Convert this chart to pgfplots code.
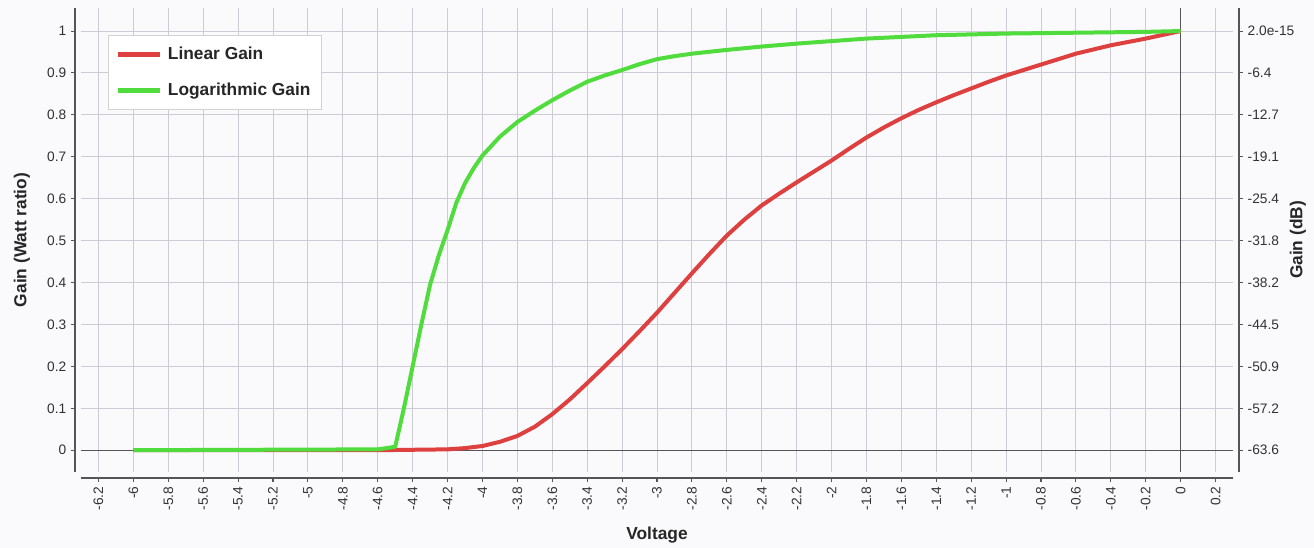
\documentclass[border=0pt]{standalone}
\usepackage{pgfplots}
\pgfplotsset{compat=1.18}
\usepackage{fontspec}
\setmainfont{Liberation Sans}
\definecolor{redc}{RGB}{222,64,64}
\definecolor{greenc}{RGB}{80,220,60}
\definecolor{gridc}{RGB}{204,204,210}
\definecolor{axc}{RGB}{85,85,85}
\definecolor{bgc}{RGB}{250,250,252}
\definecolor{txtc}{RGB}{50,50,50}

\pgfplotstableread{
x y
-6.0 0
-4.6 0
-4.4 0.001
-4.2 0.002
-4.1 0.005
-4.0 0.010
-3.9 0.020
-3.8 0.034
-3.7 0.056
-3.6 0.086
-3.5 0.121
-3.4 0.160
-3.3 0.200
-3.2 0.241
-3.1 0.284
-3.0 0.328
-2.9 0.375
-2.8 0.422
-2.7 0.468
-2.6 0.512
-2.5 0.550
-2.4 0.584
-2.3 0.612
-2.2 0.639
-2.1 0.665
-2.0 0.691
-1.9 0.719
-1.8 0.746
-1.7 0.770
-1.6 0.792
-1.5 0.812
-1.4 0.830
-1.3 0.847
-1.2 0.863
-1.1 0.879
-1.0 0.894
-0.9 0.907
-0.8 0.920
-0.7 0.933
-0.6 0.946
-0.5 0.956
-0.4 0.966
-0.3 0.974
-0.2 0.982
-0.1 0.991
0.0 1.0
}\lineargain

\pgfplotstableread{
x y
-6.0 0
-4.6 0.002
-4.5 0.008
-4.45 0.10
-4.4 0.20
-4.35 0.30
-4.3 0.395
-4.25 0.465
-4.2 0.525
-4.15 0.59
-4.1 0.637
-4.05 0.673
-4.0 0.703
-3.9 0.748
-3.8 0.783
-3.7 0.810
-3.6 0.835
-3.5 0.858
-3.4 0.879
-3.3 0.894
-3.2 0.907
-3.1 0.921
-3.0 0.933
-2.9 0.940
-2.8 0.946
-2.6 0.955
-2.4 0.963
-2.2 0.970
-2.0 0.976
-1.8 0.982
-1.6 0.986
-1.4 0.990
-1.2 0.992
-1.0 0.994
-0.8 0.995
-0.6 0.996
-0.4 0.997
-0.2 0.998
0.0 1.0
}\loggain

\tikzset{
  ticklab/.style={font=\fontsize{10.3}{11}\selectfont, text=txtc},
  lab/.style={font=\fontsize{13}{15}\selectfont\bfseries, text=black!85},
}

\begin{document}
\begin{tikzpicture}
\path[use as bounding box, fill=bgc] (-60.75pt,-57pt) rectangle (924.75pt,354pt);

% data area
\begin{axis}[
  at={(0,0)}, anchor=south west,
  width=864pt, height=348pt, scale only axis,
  xmin=-6.3, xmax=0.3, ymin=-0.052, ymax=1.055,
  xtick={-6.2,-6,-5.8,-5.6,-5.4,-5.2,-5,-4.8,-4.6,-4.4,-4.2,-4,-3.8,-3.6,-3.4,-3.2,-3,-2.8,-2.6,-2.4,-2.2,-2,-1.8,-1.6,-1.4,-1.2,-1,-0.8,-0.6,-0.4,-0.2,0,0.2},
  ytick={0,0.1,0.2,0.3,0.4,0.5,0.6,0.7,0.8,0.9,1},
  xticklabels={}, yticklabels={},
  xtick style={draw=none}, ytick style={draw=none},
  grid=major, grid style={gridc, line width=0.75pt},
  axis line style={draw=none},
  axis background/.style={fill=bgc},
  legend style={at={(0.0234,0.942)}, anchor=north west,
    draw=gray!35, fill=white, line width=0.6pt,
    font=\fontsize{13}{15}\selectfont\bfseries, text=black!85,
    inner xsep=6pt, inner ysep=7pt, row sep=12pt, column sep=2pt,
    nodes={inner sep=2pt}},
  legend cell align=left,
  legend image code/.code={\draw[#1, line width=3.2pt] (0pt,0pt) -- (31.5pt,0pt);},
]
\addplot[axc, line width=0.9pt, forget plot] coordinates {(-6.3,0) (0.3,0)};
\addplot[axc, line width=1.1pt, forget plot] coordinates {(0,-0.052) (0,1.055)};
\addplot[redc, line width=3pt, line join=round] table {\lineargain};
\addplot[greenc, line width=3pt, line join=round] table {\loggain};
\legend{Linear Gain, Logarithmic Gain}
\end{axis}

% bottom x axis
\begin{axis}[
  at={(0,-4.5pt)}, anchor=south west,
  width=864pt, height=20pt, scale only axis,
  xmin=-6.3, xmax=0.3, ymin=0, ymax=1,
  axis x line*=bottom, axis y line=none,
  x axis line style={axc, line width=1.1pt},
  xtick={-6.2,-6,-5.8,-5.6,-5.4,-5.2,-5,-4.8,-4.6,-4.4,-4.2,-4,-3.8,-3.6,-3.4,-3.2,-3,-2.8,-2.6,-2.4,-2.2,-2,-1.8,-1.6,-1.4,-1.2,-1,-0.8,-0.6,-0.4,-0.2,0,0.2},
  xticklabels={-6.2,-6,-5.8,-5.6,-5.4,-5.2,-5,-4.8,-4.6,-4.4,-4.2,-4,-3.8,-3.6,-3.4,-3.2,-3,-2.8,-2.6,-2.4,-2.2,-2,-1.8,-1.6,-1.4,-1.2,-1,-0.8,-0.6,-0.4,-0.2,0,0.2},
  ytick=\empty,
  tick align=outside, major tick length=3pt,
  xtick style={axc, line width=0.8pt},
  xticklabel style={ticklab, rotate=90, anchor=east},
  xlabel={Voltage},
  xlabel style={lab, at={(axis description cs:0.5,-2.1375)}, anchor=center},
]
\end{axis}

% left y axis
\begin{axis}[
  at={(-4.5pt,0)}, anchor=south west,
  width=864pt, height=348pt, scale only axis,
  xmin=0, xmax=1, ymin=-0.052, ymax=1.055,
  axis y line*=left, axis x line=none,
  y axis line style={axc, line width=1.1pt},
  xtick=\empty, ytick={0,0.1,0.2,0.3,0.4,0.5,0.6,0.7,0.8,0.9,1},
  yticklabels={0,0.1,0.2,0.3,0.4,0.5,0.6,0.7,0.8,0.9,1},
  tick align=outside, major tick length=3pt,
  ytick style={axc, line width=0.8pt},
  yticklabel style={ticklab},
  ylabel={Gain (Watt ratio)},
  ylabel style={lab, at={(axis description cs:-0.046,0.5)}, anchor=center},
]
\end{axis}

% right y axis
\begin{axis}[
  at={(4.5pt,0)}, anchor=south west,
  width=864pt, height=348pt, scale only axis,
  xmin=0, xmax=1, ymin=-0.052, ymax=1.055,
  axis y line*=right, axis x line=none,
  y axis line style={axc, line width=1.1pt},
  xtick=\empty, ytick={0,0.1,0.2,0.3,0.4,0.5,0.6,0.7,0.8,0.9,1},
  yticklabels={-63.6,-57.2,-50.9,-44.5,-38.2,-31.8,-25.4,-19.1,-12.7,-6.4,2.0e-15},
  tick align=outside, major tick length=3pt,
  ytick style={axc, line width=0.8pt},
  yticklabel style={ticklab},
  ylabel={Gain (dB)},
  ylabel style={lab, at={(axis description cs:1.0512,0.5)}, anchor=center},
]
\end{axis}
\end{tikzpicture}
\end{document}
